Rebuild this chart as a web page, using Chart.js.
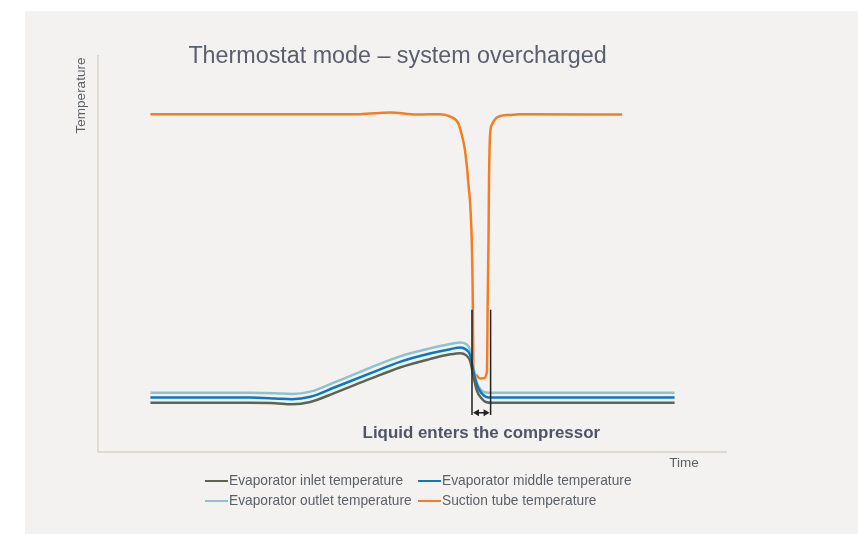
<!DOCTYPE html>
<html>
<head>
<title>Thermostat mode – system overcharged</title>
<script src="https://cdn.jsdelivr.net/npm/chart.js@4.4.1/dist/chart.umd.min.js"></script>
<style>
  html, body { margin: 0; padding: 0; background: #fff; }
  #panel { position: absolute; left: 25px; top: 11px; width: 833px; height: 523px; background: #f3f2f0; }
  #wrap { position: absolute; left: 0; top: 0; width: 858px; height: 534px; }
</style>
</head>
<body>
<div id="panel"></div>
<div id="wrap"><canvas id="canvas" width="858" height="534"></canvas></div>
<script>
// time axis runs 0..120, temperature 0..100 (arbitrary units, no ticks shown)
const evapTime = [10, 29, 33.8, 37, 40.5, 45.2, 51.9, 57.6, 63.3, 67.2, 69.1, 70.2, 71, 71.3, 71.7, 72.3, 73.1, 74, 75.2, 110];
const inletTemp = [12.4, 12.4, 12.3, 12.0, 12.6, 14.9, 18.4, 21.3, 23.4, 24.6, 24.9, 24.4, 22.9, 21.2, 18.6, 15.4, 13.6, 12.6, 12.4, 12.4];
const middleTemp = [13.7, 13.7, 13.5, 13.3, 13.9, 16.3, 19.8, 22.7, 24.8, 25.9, 26.3, 25.8, 24.4, 22.7, 19.9, 16.9, 14.9, 13.9, 13.7, 13.7];
const outletTemp = [14.9, 14.9, 14.8, 14.6, 15.2, 17.6, 21.2, 24.1, 26.1, 27.2, 27.6, 27.2, 25.7, 23.7, 20.7, 17.4, 15.6, 15.0, 14.9, 14.9];

const suctionTime = [10, 50, 55.7, 60.9, 65.3, 67.2, 68.7, 69.4, 70.0, 70.6, 71.3, 71.5, 71.6, 72.1, 72.9, 73.6, 74.2, 74.35, 74.5, 74.6, 74.8, 75.2, 76.3, 78.6, 80.5, 100];
const suctionTemp = [85.1, 85.1, 85.5, 85.0, 85.1, 84.5, 82.9, 79.9, 76.1, 68.5, 53.4, 38.3, 21.4, 19.4, 18.5, 18.6, 20.2, 38.3, 53.4, 68.5, 79.9, 82.6, 84.4, 84.9, 85.1, 85.0];

const seriesLabels = ['Evaporator inlet temperature', 'Evaporator middle temperature', 'Evaporator outlet temperature', 'Suction tube temperature'];
const seriesColors = ['#5d6552', '#0b78c6', '#8cc3cf', '#f47d22'];

// "liquid enters the compressor" window
const markerTimes = [71.35, 74.9];
const markerRange = [9.3, 35.8];
const arrowLevel = 9.9;

const pts = (xs, ys) => xs.map((t, i) => ({ x: t, y: ys[i] }));

const decor = {
  id: 'decor',
  beforeDatasetsDraw(chart) {
    const { ctx, chartArea: a } = chart;
    ctx.save();
    ctx.strokeStyle = '#d7d4c9';
    ctx.lineWidth = 1.5;
    ctx.beginPath();
    ctx.moveTo(a.left, a.top);
    ctx.lineTo(a.left, a.bottom);
    ctx.lineTo(a.right, a.bottom);
    ctx.stroke();
    ctx.restore();
  },
  afterDraw(chart) {
    const { ctx, scales: { x, y } } = chart;
    ctx.save();
    const font = '"Liberation Sans", Arial, sans-serif';

    // title
    ctx.fillStyle = '#5a5f6d';
    ctx.font = '23.3px ' + font;
    ctx.textAlign = 'center';
    ctx.textBaseline = 'middle';
    ctx.fillText('Thermostat mode – system overcharged', 397.5, 57);

    // axis titles
    ctx.fillStyle = '#5b5f66';
    ctx.font = '13.5px ' + font;
    ctx.fillText('Time', 684, 463.5);
    ctx.save();
    ctx.translate(81.5, 95.5);
    ctx.rotate(-Math.PI / 2);
    ctx.fillText('Temperature', 0, 0);
    ctx.restore();

    // marker lines + double arrow
    ctx.strokeStyle = '#222';
    ctx.fillStyle = '#222';
    ctx.lineWidth = 1.5;
    const x0 = x.getPixelForValue(markerTimes[0]);
    const x1 = x.getPixelForValue(markerTimes[1]);
    ctx.beginPath();
    markerTimes.forEach(t => {
      const px = x.getPixelForValue(t);
      ctx.moveTo(px, y.getPixelForValue(markerRange[1]));
      ctx.lineTo(px, y.getPixelForValue(markerRange[0]));
    });
    const ay = y.getPixelForValue(arrowLevel);
    ctx.moveTo(x0 + 3, ay);
    ctx.lineTo(x1 - 3, ay);
    ctx.stroke();
    ctx.beginPath();
    ctx.moveTo(x0 + 1, ay); ctx.lineTo(x0 + 7, ay - 3.5); ctx.lineTo(x0 + 7, ay + 3.5); ctx.closePath();
    ctx.moveTo(x1 - 1, ay); ctx.lineTo(x1 - 7, ay - 3.5); ctx.lineTo(x1 - 7, ay + 3.5); ctx.closePath();
    ctx.fill();

    ctx.fillStyle = '#4f5466';
    ctx.font = 'bold 16.9px ' + font;
    ctx.fillText('Liquid enters the compressor', (x0 + x1) / 2, 433);

    // legend, two columns
    const cols = [205, 418];
    const rows = [481, 501];
    ctx.font = '13.75px ' + font;
    ctx.textAlign = 'left';
    chart.data.datasets.forEach((ds, i) => {
      const lx = cols[i % 2];
      const ly = rows[Math.floor(i / 2)];
      ctx.strokeStyle = ds.borderColor;
      ctx.lineWidth = 2;
      ctx.beginPath();
      ctx.moveTo(lx, ly);
      ctx.lineTo(lx + 23, ly);
      ctx.stroke();
      ctx.fillStyle = '#5b5f66';
      ctx.fillText(ds.label, lx + 24, ly);
    });
    ctx.restore();
  }
};

const ctx = document.getElementById('canvas').getContext('2d');
new Chart(ctx, {
  type: 'line',
  data: {
    datasets: [
      { label: seriesLabels[0], data: pts(evapTime, inletTemp), borderColor: seriesColors[0] },
      { label: seriesLabels[1], data: pts(evapTime, middleTemp), borderColor: seriesColors[1] },
      { label: seriesLabels[2], data: pts(evapTime, outletTemp), borderColor: seriesColors[2] },
      { label: seriesLabels[3], data: pts(suctionTime, suctionTemp), borderColor: seriesColors[3] }
    ]
  },
  options: {
    responsive: false,
    animation: false,
    layout: { padding: { left: 98, right: 131, top: 55, bottom: 82 } },
    elements: {
      point: { radius: 0 },
      line: { borderWidth: 2.5, cubicInterpolationMode: 'monotone', fill: false }
    },
    scales: {
      x: { type: 'linear', display: false, min: 0, max: 120 },
      y: { display: false, min: 0, max: 100 }
    },
    plugins: {
      legend: { display: false },
      title: { display: false },
      tooltip: { enabled: false }
    }
  },
  plugins: [decor]
});
</script>
</body>
</html>
